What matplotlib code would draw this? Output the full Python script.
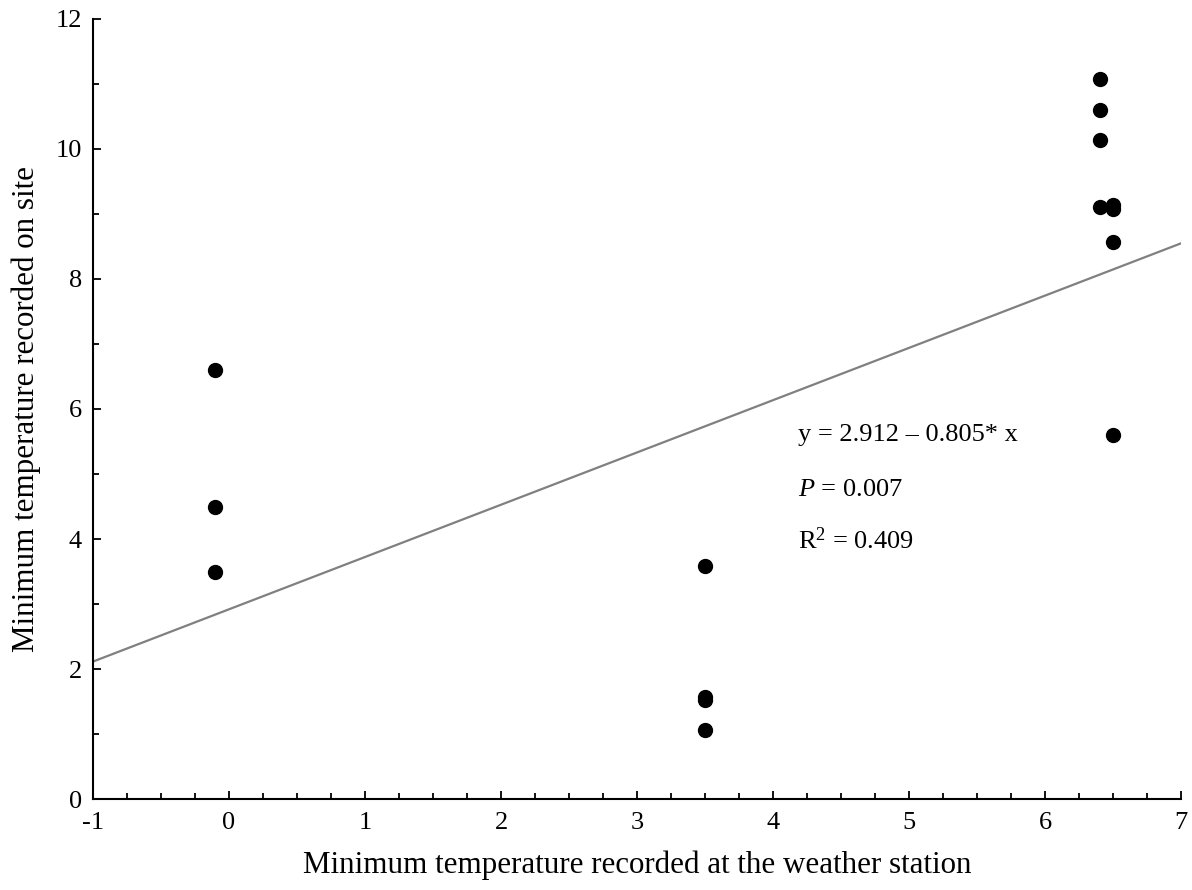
import matplotlib.pyplot as plt
from matplotlib.ticker import MultipleLocator

station = [-0.1, -0.1, -0.1, 3.5, 3.5, 3.5, 3.5,
           6.4, 6.4, 6.4, 6.4, 6.5, 6.5, 6.5, 6.5]
site = [6.6, 4.5, 3.5, 3.58, 1.57, 1.53, 1.06,
        11.07, 10.6, 10.13, 9.1, 9.14, 9.07, 8.57, 5.6]
line_x = [-1, 7]
intercept = 2.92
slope = 0.804

plt.rcParams['font.family'] = ['Liberation Serif', 'DejaVu Serif']
plt.rcParams['mathtext.fontset'] = 'custom'
plt.rcParams['mathtext.rm'] = 'Liberation Serif'
plt.rcParams['mathtext.it'] = 'Liberation Serif:italic'
plt.rcParams['axes.unicode_minus'] = False

fig = plt.figure(figsize=(11.92, 8.9), dpi=100)
ax = fig.add_axes([0.078, 0.102, 0.913, 0.877])

ax.plot(line_x, [intercept + slope * v for v in line_x], color='#808080', lw=1.6, zorder=1)
ax.scatter(station, site, s=100, color='black', zorder=2)

ax.set_xlim(-1, 7)
ax.set_ylim(0, 12)
ax.xaxis.set_major_locator(MultipleLocator(1))
ax.xaxis.set_minor_locator(MultipleLocator(0.25))
ax.yaxis.set_major_locator(MultipleLocator(2))
ax.yaxis.set_minor_locator(MultipleLocator(1))
ax.tick_params(which='both', direction='in', labelsize=19, width=1.3)
ax.tick_params(which='major', length=6)
ax.tick_params(which='minor', length=4)
ax.tick_params(axis='x', pad=9)
ax.tick_params(axis='y', pad=8)
for s in ['top', 'right']:
    ax.spines[s].set_visible(False)
for s in ['left', 'bottom']:
    ax.spines[s].set_linewidth(1.5)

ax.set_xlabel('Minimum temperature recorded at the weather station', fontsize=22.3, labelpad=12)
ax.set_ylabel('Minimum temperature recorded on site', fontsize=22.3, labelpad=10)

ax.text(4.18, 5.6, 'y = 2.912 \u2013 0.805* x', fontsize=19, va='center')
ax.text(4.18, 4.76, '$P$ = 0.007', fontsize=19, va='center')
ax.text(4.18, 3.98, 'R$^2$ = 0.409', fontsize=19, va='center')

plt.savefig('out.png')
